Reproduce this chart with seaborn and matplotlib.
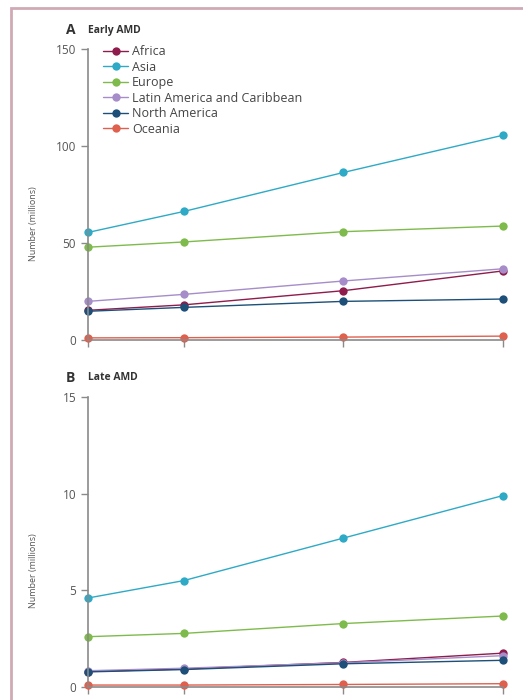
import pandas as pd
import seaborn as sns
import matplotlib.pyplot as plt
from matplotlib.patches import Rectangle

# годы и регионы
years = [2014, 2020, 2030, 2040]
regions = ['Africa', 'Asia', 'Europe', 'Latin America and Caribbean',
           'North America', 'Oceania']

# ранняя ВМД, млн
early_africa = [15.4, 18.2, 25.5, 35.7]
early_asia = [55.5, 66.3, 86.4, 105.6]
early_europe = [47.9, 50.6, 55.9, 58.8]
early_latam = [20.0, 23.6, 30.5, 36.8]
early_namerica = [14.9, 16.9, 20.0, 21.2]
early_oceania = [1.2, 1.3, 1.6, 2.1]

# поздняя ВМД, млн
late_africa = [0.80, 0.93, 1.27, 1.75]
late_asia = [4.6, 5.5, 7.7, 9.9]
late_europe = [2.6, 2.77, 3.28, 3.67]
late_latam = [0.84, 0.97, 1.25, 1.62]
late_namerica = [0.78, 0.90, 1.20, 1.38]
late_oceania = [0.10, 0.10, 0.13, 0.17]

palette = {'Africa': '#8e1c4c', 'Asia': '#2eaac6', 'Europe': '#7fbb4c',
           'Latin America and Caribbean': '#a68dc9',
           'North America': '#1d4f78', 'Oceania': '#e0604e'}


def long_df(series):
    rows = []
    for reg, vals in zip(regions, series):
        for y, v in zip(years, vals):
            rows.append({'year': y, 'region': reg, 'value': v})
    return pd.DataFrame(rows)


df_early = long_df([early_africa, early_asia, early_europe, early_latam,
                    early_namerica, early_oceania])
df_late = long_df([late_africa, late_asia, late_europe, late_latam,
                   late_namerica, late_oceania])

sns.set_style('white')
plt.rcParams['font.family'] = ['Open Sans', 'DejaVu Sans']

fig = plt.figure(figsize=(5.23, 7), dpi=100)
ax1 = fig.add_axes([0.168, 0.514, 0.794, 0.416])
ax2 = fig.add_axes([0.168, 0.0186, 0.794, 0.4144])

# рамка вокруг рисунка
fig.patches.append(Rectangle((11 / 523, -0.1), 1.2, 1 - 8 / 700 + 0.1,
                             transform=fig.transFigure, fill=False,
                             edgecolor='#cfaab4', linewidth=2))

for ax, df, ymax, step in [(ax1, df_early, 150, 50), (ax2, df_late, 15, 5)]:
    sns.lineplot(data=df, x='year', y='value', hue='region', palette=palette,
                 marker='o', markersize=6, markeredgewidth=0, linewidth=1,
                 ax=ax, clip_on=False, legend=(ax is ax1))
    ax.set_xlim(2014, 2040)
    ax.set_ylim(0, ymax)
    ax.set_xticks(years)
    ax.set_xticklabels([])
    ax.set_yticks(range(0, ymax + 1, step))
    ax.set_xlabel('')
    ax.set_ylabel('Number (millions)', fontsize=6.5, color='#555555')
    ax.yaxis.set_label_coords(-0.12, 0.4)
    sns.despine(ax=ax)
    for s in ['left', 'bottom']:
        ax.spines[s].set_color('#8a8a8a')
        ax.spines[s].set_linewidth(1.2)
    ax.tick_params(axis='both', direction='out', length=5, width=1,
                   color='#8a8a8a', labelcolor='#555555', labelsize=8.5,
                   left=True, bottom=True)

leg = ax1.legend(loc='upper left', bbox_to_anchor=(0.025, 1.03), frameon=False,
                 fontsize=9, handlelength=2.0, handletextpad=0.3,
                 labelspacing=0.2, borderaxespad=0)
for t in leg.get_texts():
    t.set_color('#444444')

fig.text(66 / 523, 1 - 30 / 700, 'A', fontsize=10, fontweight='bold',
         va='center', color='#333333')
fig.text(88 / 523, 1 - 30 / 700, 'Early AMD', fontsize=7.5, fontweight='bold',
         va='center', color='#333333')
fig.text(66 / 523, 1 - 378 / 700, 'B', fontsize=10, fontweight='bold',
         va='center', color='#333333')
fig.text(88 / 523, 1 - 378 / 700, 'Late AMD', fontsize=7.5, fontweight='bold',
         va='center', color='#333333')

fig.savefig('out.png', dpi=100)
